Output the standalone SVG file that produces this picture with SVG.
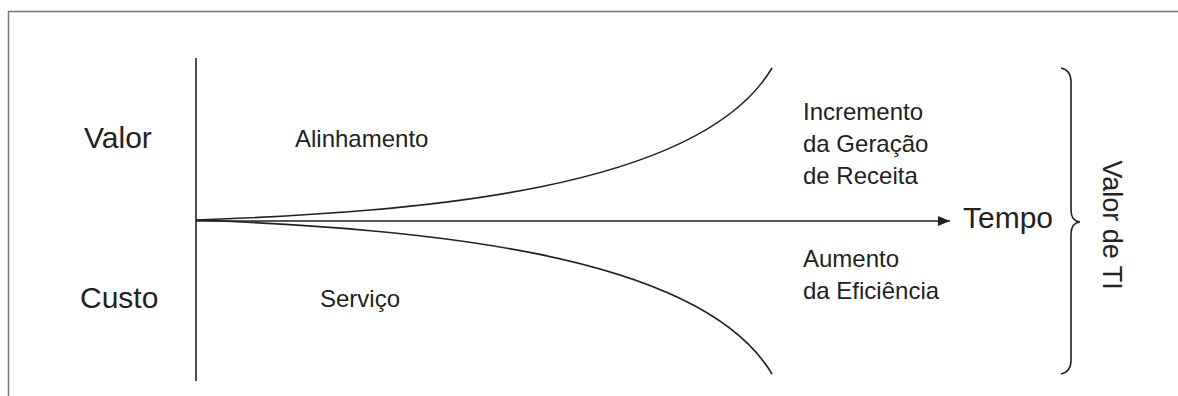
<svg xmlns="http://www.w3.org/2000/svg" width="1178" height="396" viewBox="0 0 1178 396">
  <style>
    .lbl { font-family: "Liberation Sans", Arial, sans-serif; fill: #222; }
    .big { font-size: 30px; }
    .small { font-size: 24px; }
    .ln { fill: none; stroke: #222; stroke-width: 1.6; }
  </style>
  <defs>
    <marker id="arrow" viewBox="0 0 12 10" refX="12" refY="5" markerWidth="12" markerHeight="10" markerUnits="userSpaceOnUse" orient="auto">
      <path d="M0,0 L12,5 L0,10 Z" fill="#222"/>
    </marker>
  </defs>
  <rect x="0" y="0" width="1178" height="396" fill="#fff"/>
  <rect id="frame" x="8.5" y="11.5" width="1200" height="400" fill="none" stroke="#777" stroke-width="1.5"/>

  <g id="connectors">
    <line class="ln" x1="196" y1="58" x2="196" y2="381"/>
    <line class="ln" x1="196" y1="221" x2="950" y2="221" marker-end="url(#arrow)"/>
    <path class="ln" d="M196,220 C420,212 700,190 772,68"/>
    <path class="ln" d="M196,220 C420,229 700,252 772,374"/>
    <path class="ln" d="M1061,68 Q1071,70 1071,82 L1071,210 Q1071,221 1080,222 Q1071,223 1071,234 L1071,360 Q1071,372 1061,374"/>
  </g>

  <g id="valor"><text class="lbl big" x="84" y="148">Valor</text></g>
  <g id="custo"><text class="lbl big" x="80" y="308">Custo</text></g>
  <g id="alinhamento"><text class="lbl small" x="295" y="147">Alinhamento</text></g>
  <g id="servico"><text class="lbl small" x="320" y="307">Serviço</text></g>
  <g id="incremento">
    <text class="lbl small" x="803" y="120">Incremento</text>
    <text class="lbl small" x="803" y="152">da Geração</text>
    <text class="lbl small" x="803" y="184">de Receita</text>
  </g>
  <g id="tempo"><text class="lbl big" x="963" y="228">Tempo</text></g>
  <g id="aumento">
    <text class="lbl small" x="803" y="267">Aumento</text>
    <text class="lbl small" x="803" y="299">da Eficiência</text>
  </g>
  <g id="valor-ti"><text class="lbl" font-size="27" text-anchor="middle" transform="translate(1103,225) rotate(90)">Valor de TI</text></g>
</svg>
